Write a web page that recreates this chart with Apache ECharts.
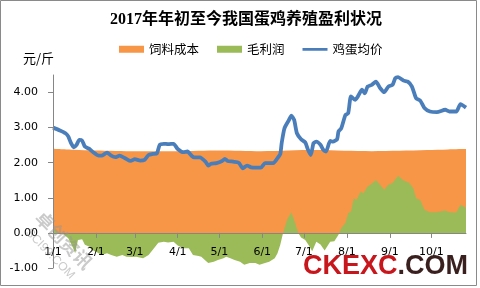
<!DOCTYPE html>
<html>
<head>
<meta charset="utf-8">
<script src="https://cdn.jsdelivr.net/npm/echarts@6/dist/echarts.min.js"></script>
<style>html,body{margin:0;padding:0;background:#fff;}#c{width:480px;height:288px;}</style>
</head>
<body>
<div id="c"></div>
<script>
// x positions are day-of-year offsets from 1/1
const tickDays = [0, 31, 59, 90, 120, 151, 181, 212, 243, 273];
const tickLabels = ['1/1', '2/1', '3/1', '4/1', '5/1', '6/1', '7/1', '8/1', '9/1', '10/1'];
const yTicks = [-1, 0, 1, 2, 3, 4];

const costDays = [0, 15, 30, 60, 90, 120, 150, 170, 190, 210, 230, 250, 270, 285, 298];
const costValues = [2.40, 2.37, 2.35, 2.33, 2.33, 2.35, 2.33, 2.35, 2.36, 2.34, 2.33, 2.34, 2.36, 2.38, 2.39];

const profitDays = [0, 4, 8, 11, 14, 16, 18, 21, 23, 26, 28, 32, 35, 39, 42, 46, 50, 53, 57, 60, 65, 69, 72, 76, 80, 83, 87, 90, 94, 98, 101, 105, 107, 112, 116, 119, 123, 125, 128, 131, 135, 138, 142, 146, 149, 153, 156, 160, 162, 164, 166, 169, 172, 174, 177, 179, 182, 185, 187, 190, 193, 196, 200, 203, 206, 208, 211, 213, 215, 217, 219, 222, 224, 227, 230, 233, 236, 239, 242, 245, 249, 253, 257, 260, 262, 265, 268, 272, 277, 283, 286, 291, 294, 298];
const profitValues = [0.13, 0.00, -0.05, -0.15, -0.39, -0.58, -0.20, -0.18, -0.34, -0.39, -0.48, -0.56, -0.63, -0.58, -0.63, -0.68, -0.63, -0.68, -0.69, -0.68, -0.72, -0.63, -0.48, -0.28, -0.25, -0.27, -0.25, -0.36, -0.44, -0.44, -0.63, -0.66, -0.68, -0.86, -0.82, -0.77, -0.72, -0.68, -0.72, -0.77, -0.82, -0.91, -0.86, -0.86, -0.91, -0.86, -0.82, -0.72, -0.58, -0.34, 0.00, 0.38, 0.59, 0.37, 0.00, -0.13, -0.20, -0.38, -0.52, -0.25, -0.33, -0.50, -0.25, -0.24, -0.05, 0.14, 0.28, 0.56, 0.61, 0.99, 0.94, 1.18, 1.13, 1.32, 1.40, 1.51, 1.37, 1.23, 1.37, 1.42, 1.63, 1.49, 1.43, 1.27, 0.99, 0.94, 0.66, 0.59, 0.59, 0.64, 0.59, 0.58, 0.80, 0.72];

const priceDays = [0, 5, 9, 11, 13, 15, 17, 19, 21, 23, 26, 29, 33, 35, 39, 42, 45, 48, 52, 56, 59, 63, 66, 69, 72, 75, 77, 80, 83, 87, 90, 94, 97, 100, 102, 106, 110, 112, 114, 118, 122, 124, 126, 130, 134, 137, 140, 143, 147, 150, 153, 156, 159, 162, 164, 165, 167, 170, 172, 174, 176, 179, 182, 184, 186, 188, 190, 193, 195, 197, 200, 202, 205, 206, 208, 211, 213, 215, 218, 220, 223, 225, 227, 230, 233, 236, 239, 242, 245, 247, 249, 253, 256, 259, 262, 265, 268, 272, 277, 283, 286, 291, 294, 298];
const priceValues = [3.00, 2.92, 2.84, 2.75, 2.56, 2.44, 2.51, 2.65, 2.63, 2.46, 2.40, 2.30, 2.20, 2.20, 2.29, 2.20, 2.16, 2.20, 2.13, 2.05, 2.10, 2.06, 2.08, 2.22, 2.25, 2.27, 2.51, 2.54, 2.53, 2.54, 2.39, 2.30, 2.32, 2.20, 2.15, 2.15, 2.03, 1.92, 1.97, 1.99, 2.05, 2.11, 2.05, 2.03, 2.00, 1.84, 1.92, 1.87, 1.86, 1.86, 1.99, 1.99, 1.99, 2.13, 2.25, 2.56, 2.98, 3.20, 3.34, 3.22, 2.84, 2.67, 2.58, 2.37, 2.22, 2.56, 2.60, 2.51, 2.37, 2.32, 2.62, 2.60, 2.67, 2.89, 2.98, 3.36, 3.41, 3.89, 3.79, 3.89, 4.08, 3.98, 4.17, 4.22, 4.31, 4.13, 4.01, 4.17, 4.22, 4.41, 4.44, 4.34, 4.31, 4.17, 3.84, 3.77, 3.56, 3.46, 3.44, 3.51, 3.46, 3.46, 3.67, 3.57];

const zip = (xs, ys) => xs.map((x, i) => [x, ys[i]]);

const chart = echarts.init(document.getElementById('c'), null, {renderer: 'canvas'});
const labelFont = 'DejaVu Sans';
const cjk = 'Noto Sans CJK SC';
const Y_MIN = -1, Y_MAX = 4.5;
const gridTop = 75, gridBottom = 20, H = 288;
// shift the x axis up so it sits on the zero line
const zeroOffset = -((H - gridTop - gridBottom) * (0 - Y_MIN) / (Y_MAX - Y_MIN));

chart.setOption({
  animation: false,
  backgroundColor: '#ffffff',
  grid: {left: 53, right: 14, top: gridTop, bottom: gridBottom, containLabel: false},
  legend: {
    left: 114, top: 38,
    itemWidth: 25, itemHeight: 7, itemGap: 18,
    textStyle: {fontSize: 12.5, fontFamily: cjk, color: '#000'},
    data: [
      {name: '饲料成本', icon: 'rect'},
      {name: '毛利润', icon: 'rect'},
      {name: '鸡蛋均价', icon: 'path://M0,2.2h27v3h-27z M0,0h0.01v7h-0.01z', itemStyle: {color: '#4A7EBB', borderWidth: 0}}
    ]
  },
  xAxis: {
    type: 'value', min: 0, max: 298, position: 'bottom', offset: zeroOffset, z: 10,
    axisLine: {onZero: false, lineStyle: {color: '#868686', width: 1}},
    axisTick: {show: true, length: 5, inside: false, customValues: tickDays, lineStyle: {color: '#868686'}},
    axisLabel: {
      customValues: tickDays, margin: 14, color: '#000', fontSize: 11, fontFamily: labelFont,
      formatter: v => tickLabels[tickDays.indexOf(v)] || ''
    },
    splitLine: {show: false}
  },
  yAxis: {
    type: 'value', min: Y_MIN, max: Y_MAX, interval: 1, z: 10,
    axisLine: {show: true, lineStyle: {color: '#868686', width: 1}},
    axisTick: {show: true, length: 5, customValues: yTicks, lineStyle: {color: '#868686'}},
    axisLabel: {
      customValues: yTicks, margin: 15, color: '#000', fontSize: 11, fontFamily: labelFont,
      formatter: v => v.toFixed(2)
    },
    splitLine: {show: false}
  },
  series: [
    {
      name: '饲料成本', type: 'line', data: zip(costDays, costValues),
      symbol: 'none', smooth: 0.3,
      lineStyle: {width: 0}, itemStyle: {color: '#F79646'},
      areaStyle: {color: '#F79646', opacity: 1}
    },
    {
      name: '毛利润', type: 'line', data: zip(profitDays, profitValues),
      symbol: 'none',
      lineStyle: {width: 0}, itemStyle: {color: '#9BBB59'},
      areaStyle: {color: '#9BBB59', opacity: 1}
    },
    {
      name: '鸡蛋均价', type: 'line', data: zip(priceDays, priceValues),
      symbol: 'none', showSymbol: false, smooth: 0.2,
      lineStyle: {width: 3.8, color: '#4A7EBB'}, itemStyle: {color: '#4A7EBB'}
    }
  ],
  graphic: [
    {type: 'rect', z: 100, silent: true, shape: {x: 0.5, y: 0.5, width: 476, height: 285},
     style: {fill: 'none', stroke: '#8a8a8a', lineWidth: 1}},
    {type: 'text', z: 100, x: 246, y: 20, silent: true,
     style: {text: '2017年年初至今我国蛋鸡养殖盈利状况', fontSize: 16, fontWeight: 'bold',
       fontFamily: 'Liberation Serif, ' + cjk, fill: '#000', align: 'center', verticalAlign: 'middle'}},
    {type: 'text', z: 100, x: 23, y: 58, silent: true,
     style: {text: '元/斤', fontSize: 13, fontFamily: cjk, fill: '#000', align: 'left', verticalAlign: 'middle'}},
    {type: 'text', z: 100, x: 64, y: 240, rotation: -0.8, silent: true,
     style: {text: '卓创资讯', fontSize: 18, fontWeight: 'bold', fontFamily: cjk, fill: 'rgba(150,150,150,0.5)', align: 'center', verticalAlign: 'middle'}},
    {type: 'text', z: 100, x: 50, y: 254, rotation: -0.8, silent: true,
     style: {text: 'SCI99.COM', fontSize: 12, fontFamily: 'Liberation Sans', fill: 'rgba(150,150,150,0.5)', align: 'center', verticalAlign: 'middle'}},
    {type: 'text', z: 100, x: 303, y: 267, silent: true,
     style: {text: '{r|CKEXC}{k|.COM}', fontSize: 27, fontWeight: 'bold', fontFamily: 'Liberation Sans',
       align: 'left', verticalAlign: 'middle',
       rich: {r: {fill: '#C8161D', fontSize: 27, fontWeight: 'bold', fontFamily: 'Liberation Sans'},
              k: {fill: '#3A1F1F', fontSize: 27, fontWeight: 'bold', fontFamily: 'Liberation Sans'}}}}
  ]
});
</script>
</body>
</html>
